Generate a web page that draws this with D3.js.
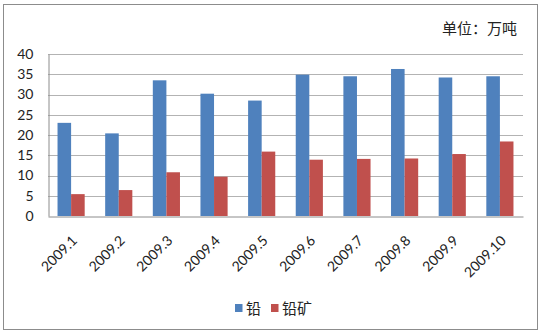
<!DOCTYPE html>
<html>
<head>
<meta charset="utf-8">
<script src="https://cdn.jsdelivr.net/npm/d3@7"></script>
<style>
  body { margin: 0; background: #fff; }
  svg { display: block; }
</style>
</head>
<body>
<svg id="chart" width="542" height="335"></svg>
<script>
// Monthly figures, 10k tonnes
const months = ["2009.1","2009.2","2009.3","2009.4","2009.5","2009.6","2009.7","2009.8","2009.9","2009.10"];
const lead   = [23.0, 20.4, 33.5, 30.2, 28.5, 34.9, 34.5, 36.3, 34.2, 34.5];
const leadOre = [5.4, 6.4, 10.8, 9.7, 15.9, 13.9, 14.1, 14.2, 15.3, 18.4];
const seriesNames = ["铅", "铅矿"];
const colors = ["#4f81bd", "#c0504d"];
const yTicks = [0, 5, 10, 15, 20, 25, 30, 35, 40];
const unitLabel = "单位：万吨";

const svg = d3.select("#chart");
const numFont = "Lato, 'Liberation Sans', sans-serif";
const cjkFont = "'Noto Sans CJK SC', sans-serif";

// outer frame
svg.append("rect")
  .attr("x", 3.5).attr("y", 4.5).attr("width", 534).attr("height", 325)
  .attr("fill", "#fff").attr("stroke", "#8c8c8c").attr("stroke-width", 1);

const plot = { left: 48, right: 523, top: 54, bottom: 216 };

const x = d3.scaleBand().domain(months).range([plot.left, plot.right]).paddingInner(0.43).paddingOuter(0.2);
const xs = d3.scaleBand().domain(seriesNames).range([0, x.bandwidth()]);
const y = d3.scaleLinear().domain([0, 40]).range([plot.bottom, plot.top]);

// gridlines
svg.append("g").selectAll("line").data(yTicks.slice(1)).join("line")
  .attr("x1", plot.left).attr("x2", plot.right)
  .attr("y1", d => Math.round(y(d)) + 0.5).attr("y2", d => Math.round(y(d)) + 0.5)
  .attr("stroke", "#b3b3b3").attr("stroke-width", 1);

// y axis
const yAxis = svg.append("g").attr("transform", `translate(${plot.left + 0.5},0)`)
  .call(d3.axisLeft(y).tickValues(yTicks).tickSize(0).tickPadding(15));
yAxis.select(".domain").attr("stroke", "#8c8c8c");
yAxis.selectAll("text").attr("font-family", numFont).attr("font-size", 14).attr("fill", "#222");

// bars
const groups = svg.append("g").selectAll("g").data(months).join("g")
  .attr("transform", d => `translate(${x(d)},0)`);
groups.selectAll("rect")
  .data((d, i) => [{ s: seriesNames[0], v: lead[i], c: colors[0] }, { s: seriesNames[1], v: leadOre[i], c: colors[1] }])
  .join("rect")
  .attr("x", d => xs(d.s))
  .attr("width", xs.bandwidth())
  .attr("y", d => y(d.v))
  .attr("height", d => y(0) - y(d.v))
  .attr("fill", d => d.c);

// x axis
const xAxis = svg.append("g").attr("transform", `translate(0,${plot.bottom + 0.5})`)
  .call(d3.axisBottom(x).tickSize(0).tickPadding(0));
xAxis.select(".domain").attr("stroke", "#8c8c8c");
xAxis.selectAll("text")
  .attr("font-family", numFont).attr("font-size", 14).attr("fill", "#222")
  .attr("text-anchor", "end")
  .attr("dy", 0)
  .attr("transform", "translate(7,25) rotate(-45)");

// unit label
svg.append("text").attr("x", 517).attr("y", 34).attr("text-anchor", "end")
  .attr("font-family", cjkFont).attr("font-size", 15).attr("fill", "#222")
  .text(unitLabel);

// legend
const legend = svg.append("g").attr("transform", "translate(235,304)");
const legendX = [0, 36];
seriesNames.forEach((name, i) => {
  const g = legend.append("g").attr("transform", `translate(${legendX[i]},0)`);
  g.append("rect").attr("width", 7.5).attr("height", 8).attr("fill", colors[i]);
  g.append("text").attr("x", 11).attr("y", 9.5).attr("font-family", cjkFont)
    .attr("font-size", 15).attr("fill", "#222").text(name);
});
</script>
</body>
</html>
